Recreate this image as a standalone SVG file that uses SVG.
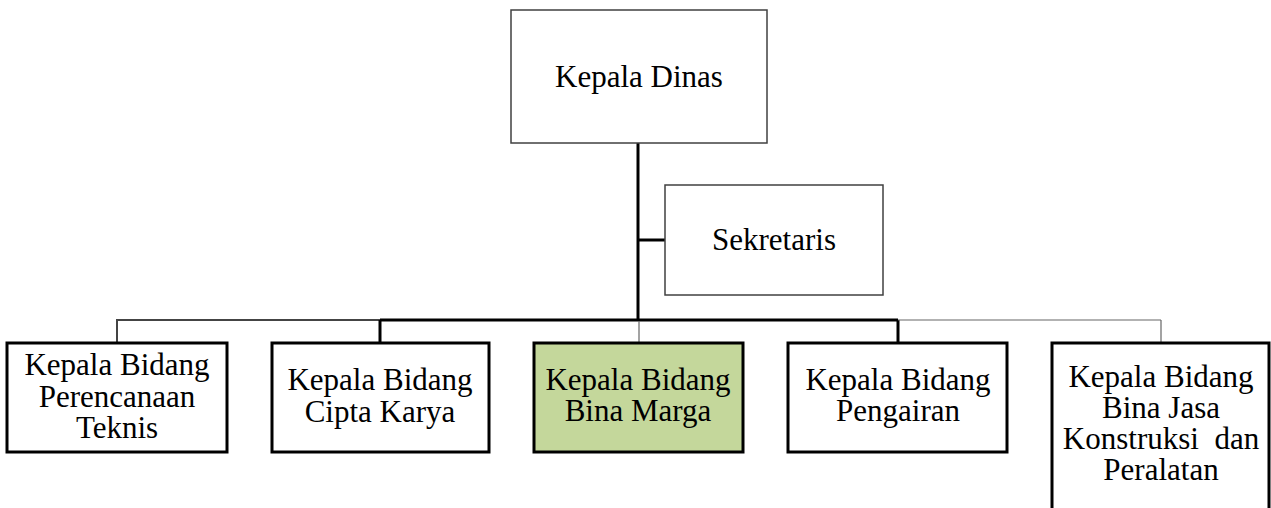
<svg xmlns="http://www.w3.org/2000/svg" width="1271" height="508" viewBox="0 0 1271 508">
  <style>
    text { font-family: "Liberation Serif", "Times New Roman", serif; font-size: 31px; fill: #000; text-anchor: middle; }
    .top { fill: #fff; stroke: #404040; stroke-width: 1.5; }
    .unit { fill: #fff; stroke: #000; stroke-width: 3; }
    .hl { fill: #c4d79b; }
    .thick { stroke: #000; stroke-width: 3; fill: none; }
    .thin { stroke: #666; stroke-width: 1.2; fill: none; }
    .dbl { stroke: #444; stroke-width: 2; fill: none; }
  </style>

  <!-- connectors -->
  <g id="connectors">
    <line class="thick" x1="638" y1="143" x2="638" y2="321"/>
    <line class="thick" x1="638" y1="240" x2="665" y2="240"/>
    <line class="thick" x1="380" y1="320" x2="898" y2="320"/>
    <line class="dbl" x1="117" y1="320" x2="380" y2="320"/>
    <line class="dbl" x1="117" y1="319" x2="117" y2="343"/>
    <line class="thick" x1="380" y1="320" x2="380" y2="343"/>
    <line class="thin" x1="639" y1="321" x2="639" y2="343"/>
    <line class="thick" x1="898" y1="320" x2="898" y2="343"/>
    <line class="thin" x1="898" y1="320" x2="1161" y2="320"/>
    <line class="thin" x1="1161" y1="320" x2="1161" y2="343"/>
  </g>

  <g id="kepala-dinas">
    <rect class="top" x="511" y="10" width="256" height="133"/>
    <text x="639" y="87">Kepala Dinas</text>
  </g>

  <g id="sekretaris">
    <rect class="top" x="665" y="185" width="218" height="110"/>
    <text x="774" y="250">Sekretaris</text>
  </g>

  <g id="perencanaan-teknis">
    <rect class="unit" x="7" y="343" width="220" height="109"/>
    <text x="117" y="375">Kepala Bidang</text>
    <text x="117" y="407">Perencanaan</text>
    <text x="117" y="438">Teknis</text>
  </g>

  <g id="cipta-karya">
    <rect class="unit" x="272" y="343" width="217" height="109"/>
    <text x="380" y="390">Kepala Bidang</text>
    <text x="380" y="422">Cipta Karya</text>
  </g>

  <g id="bina-marga">
    <rect class="unit hl" x="534" y="343" width="209" height="109"/>
    <text x="638" y="390">Kepala Bidang</text>
    <text x="638" y="421">Bina Marga</text>
  </g>

  <g id="pengairan">
    <rect class="unit" x="788" y="343" width="219" height="109"/>
    <text x="898" y="390">Kepala Bidang</text>
    <text x="898" y="421">Pengairan</text>
  </g>

  <g id="bina-jasa-konstruksi">
    <rect class="unit" x="1052" y="343" width="217" height="180"/>
    <text x="1161" y="387">Kepala Bidang</text>
    <text x="1161" y="418">Bina Jasa</text>
    <text x="1161" y="449" xml:space="preserve">Konstruksi  dan</text>
    <text x="1161" y="480">Peralatan</text>
  </g>
</svg>
